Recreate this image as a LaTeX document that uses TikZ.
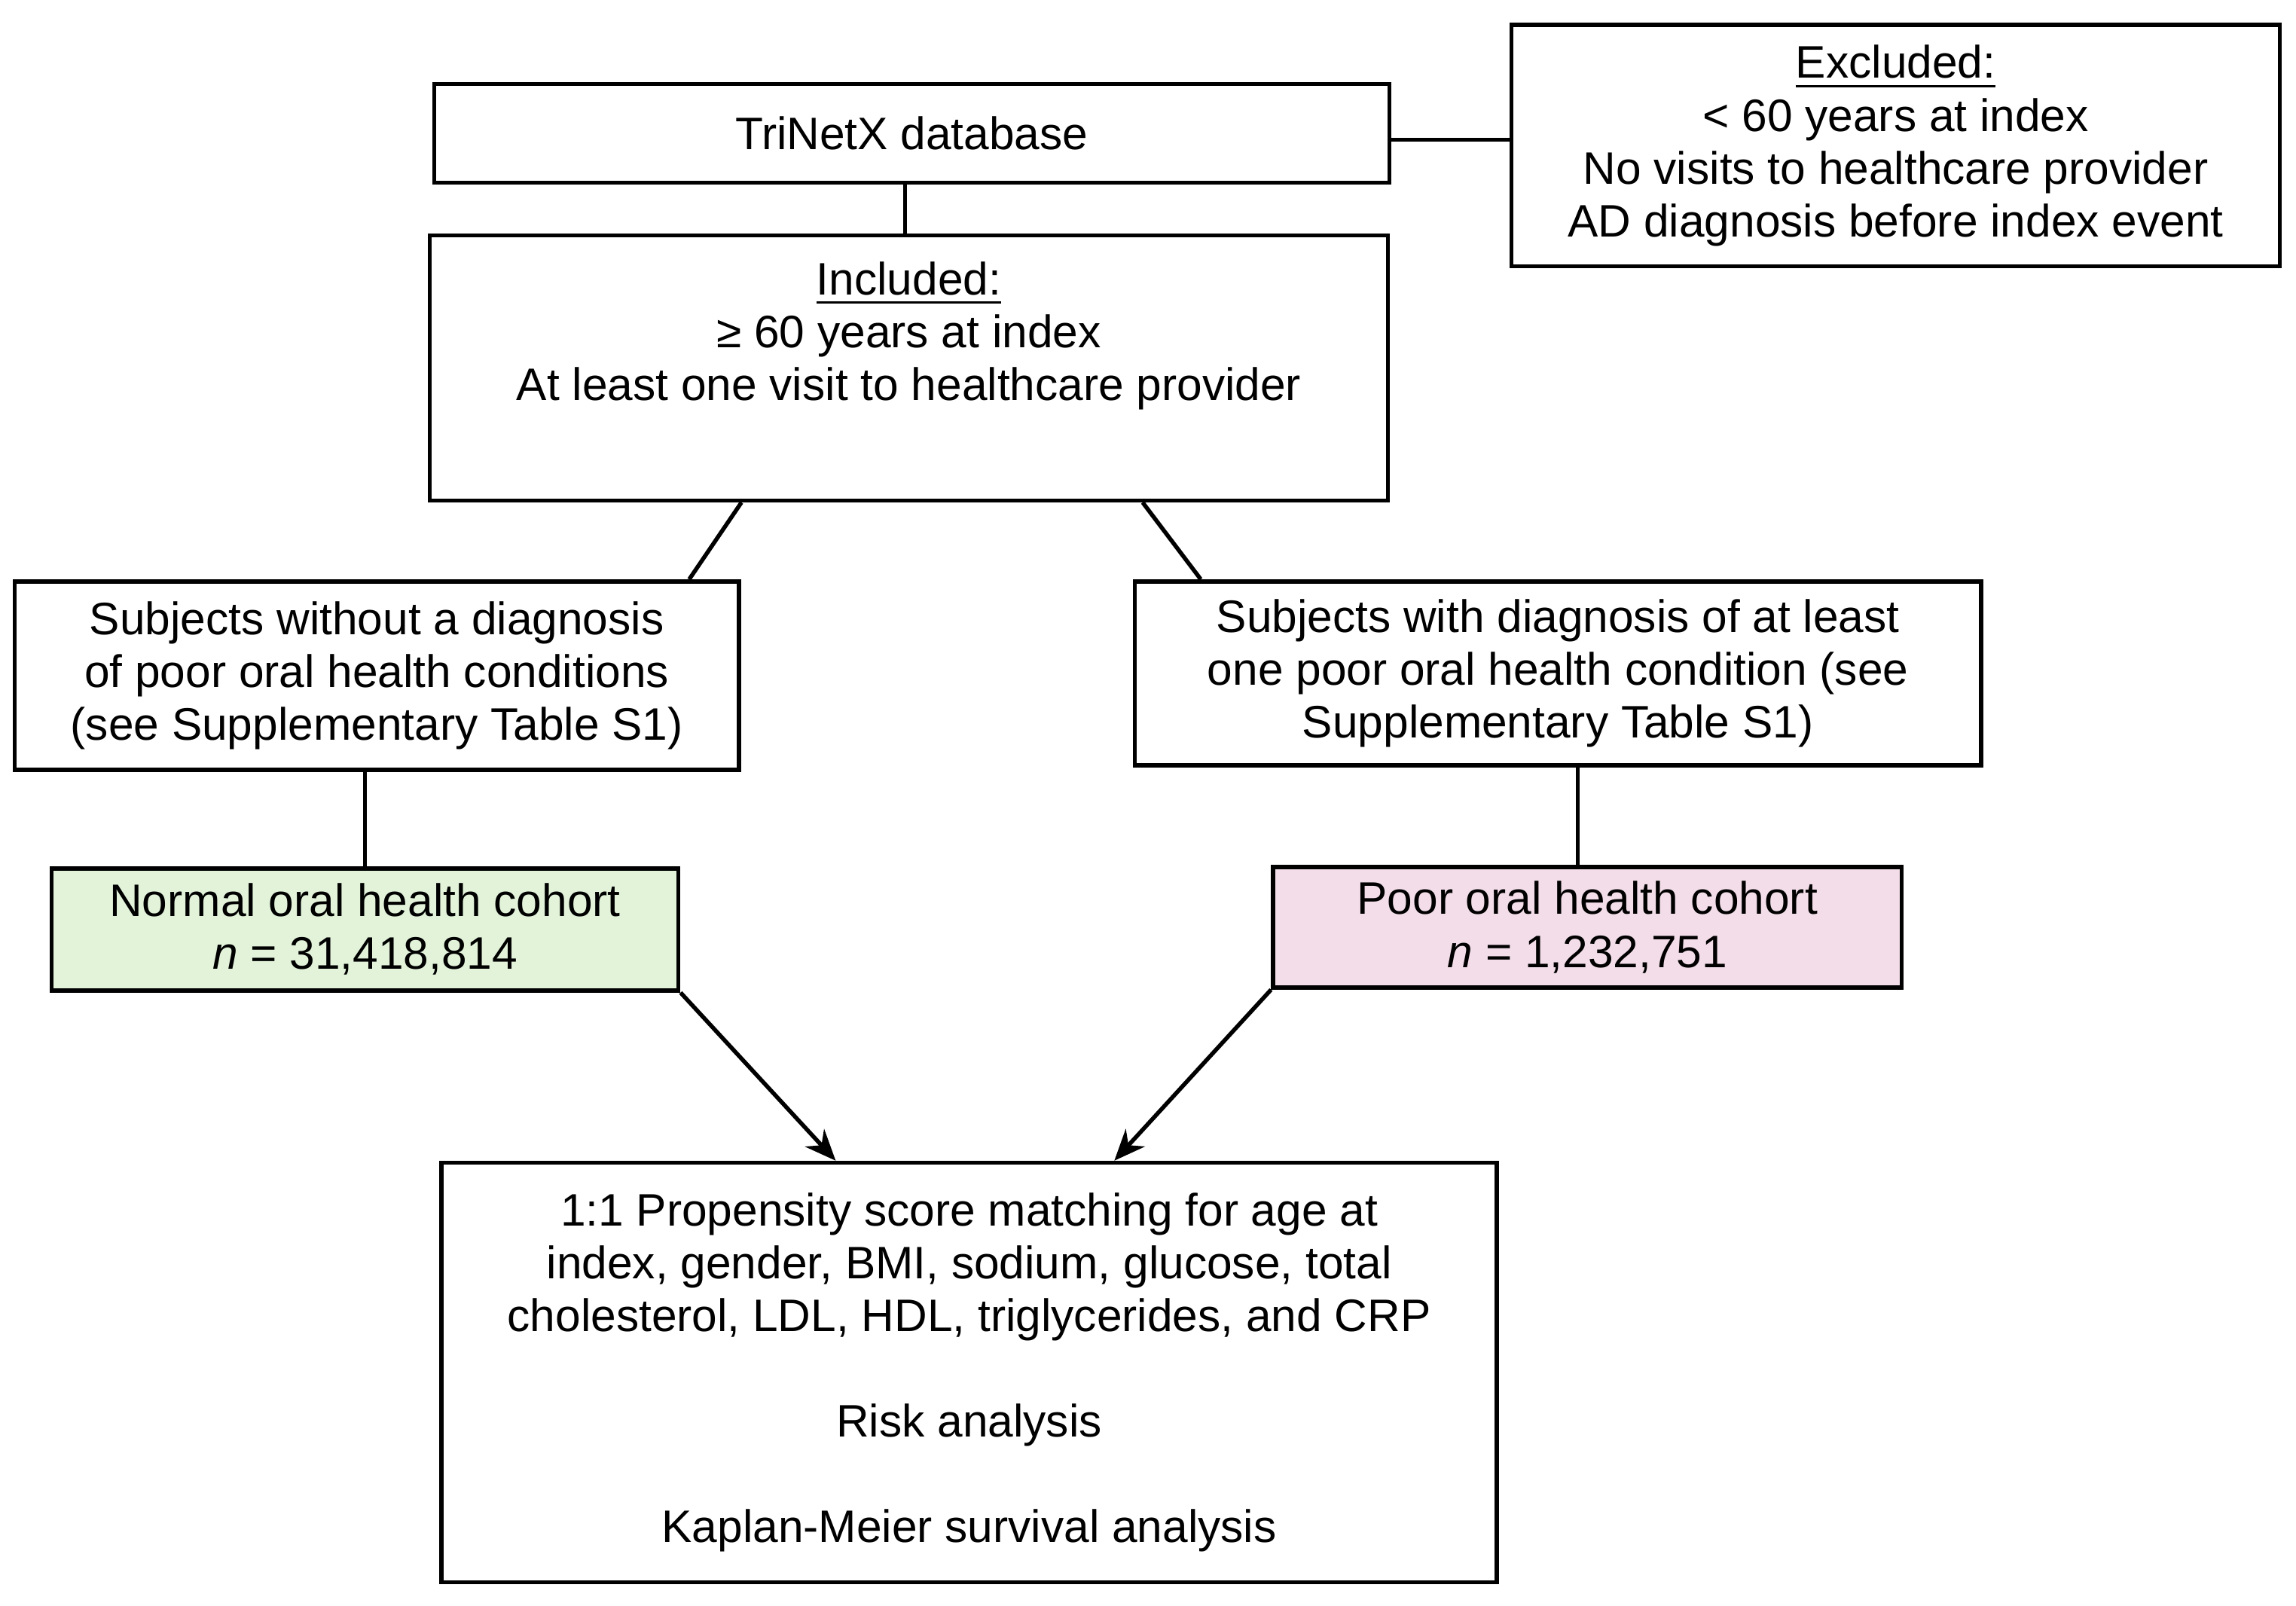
\documentclass[tikz,border=0pt]{standalone}
\usepackage{fontspec}
\setmainfont{Liberation Sans}
\usetikzlibrary{calc,arrows.meta}
\definecolor{normalfill}{HTML}{E2F3DA}
\definecolor{poorfill}{HTML}{F2DDE8}
\tikzset{
    box/.style={
      rectangle,
      draw=black, line width=0.8pt,
      align=center,
      inner sep=2pt,
      font=\fontsize{8.8}{10.2}\selectfont,
    },
    link/.style={line width=0.8pt},
    flow/.style={line width=0.8pt, -{Stealth[length=6pt,width=5pt]}},
}
\begin{document}
\begin{tikzpicture}
  \useasboundingbox (0,0) rectangle (15.6,-10.91);

  \node[box, minimum width=6.49cm, minimum height=0.67cm] (DB) at (6.195,-0.905)
  {TriNetX database};

  \node[box, minimum width=5.22cm, minimum height=1.64cm] (EXCL) at (12.88,-0.99)
  {\underline{Excluded:}\\
   < 60 years at index\\
   No visits to healthcare provider\\
   AD diagnosis before index event};

  \node[box, minimum width=6.51cm, minimum height=1.80cm] (INCL) at (6.175,-2.50)
  {\underline{Included:}\\
   ≥ 60 years at index\\
   At least one visit to healthcare provider\\[4pt]};

  \node[box, minimum width=4.92cm, minimum height=1.28cm] (NOPOOR) at (2.56,-4.59)
  {Subjects without a diagnosis\\
   of poor oral health conditions\\
   (see Supplementary Table S1)};

  \node[box, minimum width=5.75cm, minimum height=1.25cm] (POOR) at (10.585,-4.575)
  {Subjects with diagnosis of at least\\
   one poor oral health condition (see\\
   Supplementary Table S1)};

  \node[box, fill=normalfill, minimum width=4.26cm, minimum height=0.83cm] (NORMAL) at (2.48,-6.315)
  {Normal oral health cohort\\
   \textit{n} = 31,418,814};

  \node[box, fill=poorfill, minimum width=4.27cm, minimum height=0.82cm] (POORC) at (10.785,-6.30)
  {Poor oral health cohort\\
   \textit{n} = 1,232,751};

  \node[box, minimum width=7.17cm, minimum height=2.85cm] (PSM) at (6.585,-9.325)
  {1:1 Propensity score matching for age at\\
   index, gender, BMI, sodium, glucose, total\\
   cholesterol, LDL, HDL, triglycerides, and CRP\\[10.2pt]
   Risk analysis\\[10.2pt]
   Kaplan-Meier survival analysis};

  % connectors
  \draw[link] (DB.south -| 6.15,0) -- (INCL.north -| 6.15,0);
  \draw[link] (DB.east |- 0,-0.95) -- (EXCL.west |- 0,-0.95);
  \draw[link] ($(INCL.south west)!0.326!(INCL.south east)$) -- ($(NOPOOR.north west)!0.929!(NOPOOR.north east)$);
  \draw[link] ($(INCL.south west)!0.743!(INCL.south east)$) -- ($(POOR.north west)!0.08!(POOR.north east)$);
  \draw[link] (NOPOOR.south -| NORMAL) -- (NORMAL.north);
  \draw[link] (POOR.south -| 10.72,0) -- (POORC.north -| 10.72,0);
  \draw[flow] (NORMAL.south east) -- ($(PSM.north west)!0.374!(PSM.north east)$);
  \draw[flow] (POORC.south west) -- ($(PSM.north west)!0.637!(PSM.north east)$);
\end{tikzpicture}
\end{document}
